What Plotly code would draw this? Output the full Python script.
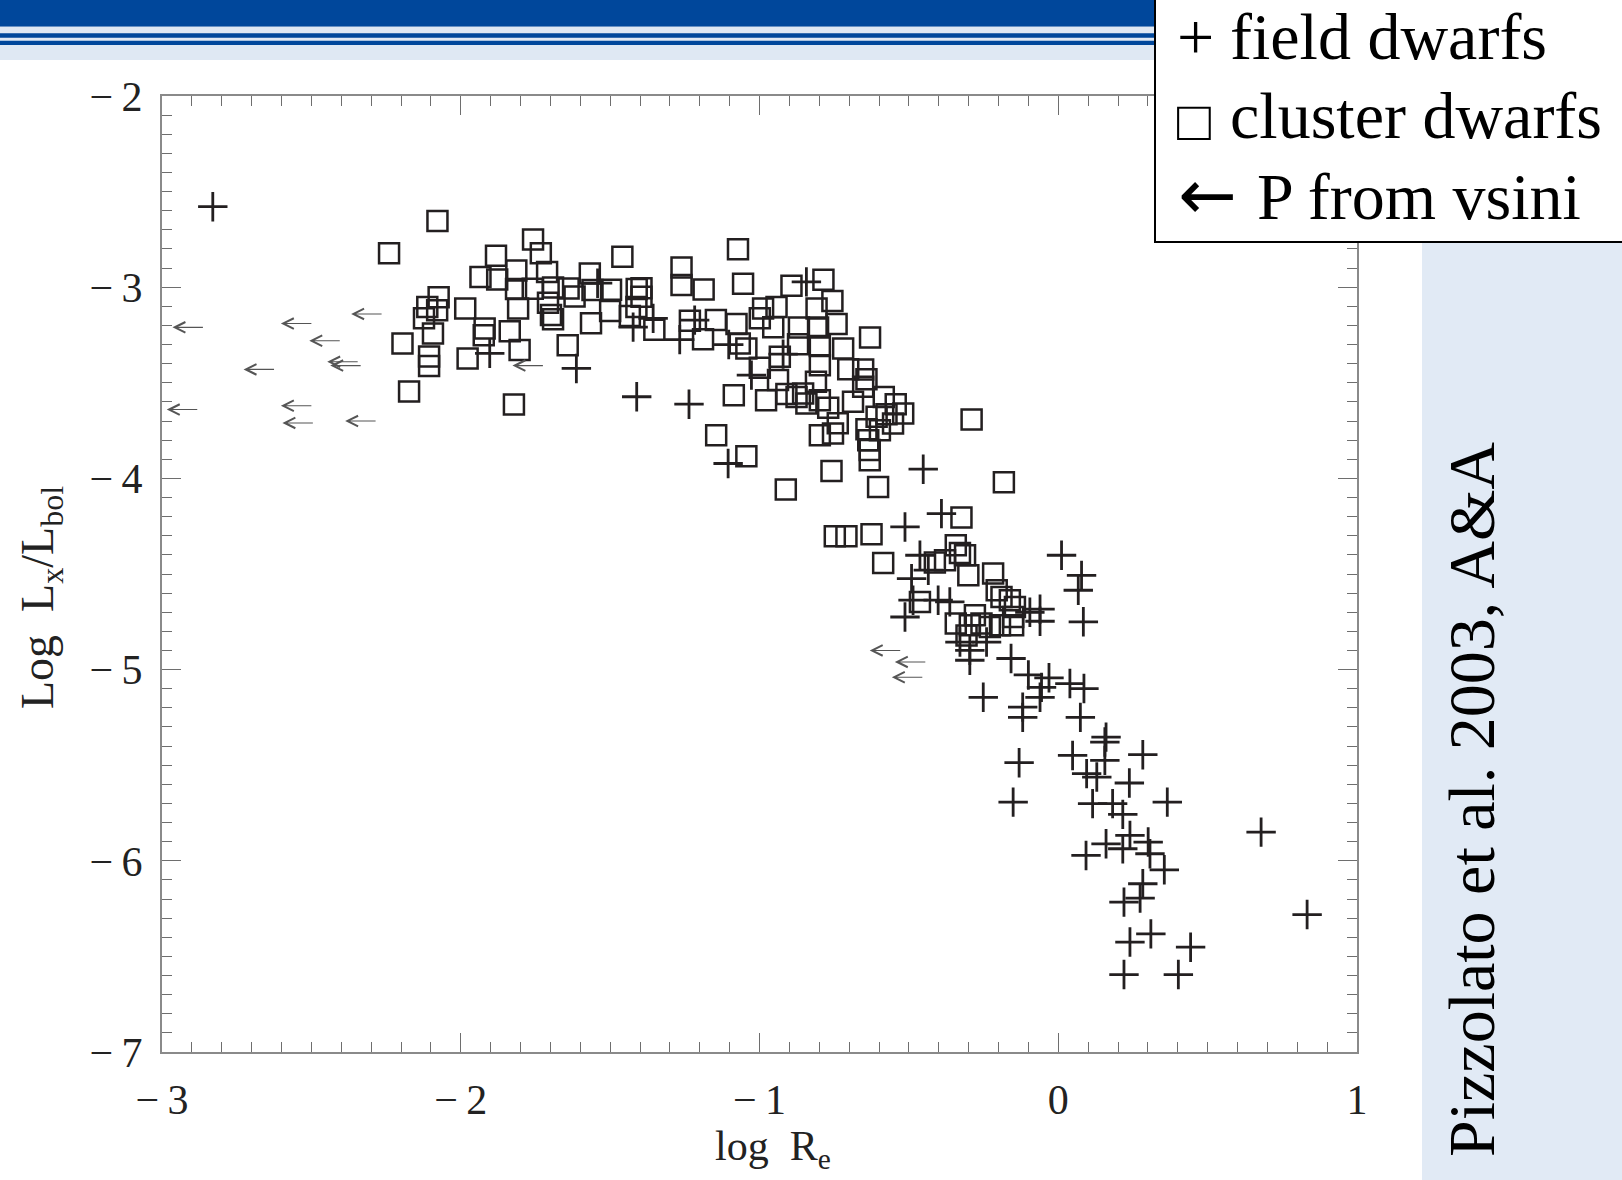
import plotly.graph_objects as go

# ---------------- data (log R_e , log Lx/Lbol) ----------------
cluster_x = [-2.078, -2.240, -1.758, -1.732, -1.459, -1.882, -1.934, -1.878, -1.814, -1.711,
             -1.568, -1.815, -1.759, -1.691, -1.639, -1.619, -1.559, -1.497, -1.411, -1.808,
             -1.708, -1.698, -1.691, -1.500, -1.434, -1.412, -2.074, -2.112, -2.079, -2.123,
             -2.093, -1.985, -1.920, -1.923, -1.836, -1.803, -1.642, -1.564, -2.195, -2.106,
             -2.106, -1.977, -2.173, -1.822, -1.395, -1.395, -1.352,
             -1.072, -1.261, -1.261, -1.187, -1.055, -0.893, -0.786, -0.756, -0.630, -1.233,
             -1.189, -1.146, -1.077, -0.988, -0.999, -0.943, -0.954, -1.066, -1.044, -0.868,
             -0.809, -0.742, -0.804, -0.871, -0.798, -0.720, -0.932, -0.999, -0.798, -0.703,
             -0.653, -0.938, -0.811, -0.642, -1.086, -0.978, -0.910, -0.876, -0.854, -0.843,
             -0.798, -0.770, -0.687, -0.584, -0.544, -0.519, -0.575, -0.553, -0.608, -0.642,
             -0.636, -0.631, -0.631, -0.597, -0.738, -0.754, -0.798, -0.653, -1.145, -1.044,
             -0.759, -0.912, -0.603, -0.182, -0.290,
             -0.324, -0.748, -0.709, -0.625, -0.586, -0.343, -0.329, -0.312, -0.413, -0.379,
             -0.301, -0.218, -0.206, -0.190, -0.162, -0.145, -0.463, -0.343, -0.279, -0.296,
             -0.257, -0.229, -0.195, -0.151, -0.151, -0.307]
cluster_y = [-2.654, -2.823, -2.751, -2.823, -2.841, -2.835, -2.946, -2.960, -2.913, -2.921,
             -2.929, -3.010, -3.008, -3.001, -3.007, -3.049, -3.015, -3.013, -3.010, -3.111,
             -3.081, -3.146, -3.168, -3.124, -3.151, -3.103, -3.052, -3.103, -3.120, -3.162,
             -3.242, -3.111, -3.216, -3.251, -3.230, -3.329, -3.303, -3.189, -3.294, -3.362,
             -3.412, -3.373, -3.545, -3.614, -3.006, -3.050, -3.222,
             -2.802, -2.897, -2.989, -3.012, -2.982, -2.993, -2.961, -3.072, -3.263, -3.176,
             -3.272, -3.172, -3.193, -3.111, -3.163, -3.103, -3.209, -3.294, -3.320, -3.211,
             -3.111, -3.193, -3.211, -3.299, -3.308, -3.320, -3.364, -3.421, -3.408, -3.429,
             -3.431, -3.486, -3.495, -3.481, -3.565, -3.591, -3.559, -3.574, -3.556, -3.608,
             -3.591, -3.630, -3.599, -3.574, -3.612, -3.660, -3.664, -3.713, -3.678, -3.743,
             -3.800, -3.852, -3.905, -3.748, -3.711, -3.765, -3.774, -3.521, -3.774, -3.884,
             -3.961, -4.058, -4.045, -4.020, -3.692,
             -4.205, -4.302, -4.302, -4.292, -4.442, -4.350, -4.390, -4.402, -4.440, -4.428,
             -4.507, -4.498, -4.585, -4.620, -4.637, -4.672, -4.646, -4.759, -4.716, -4.768,
             -4.759, -4.777, -4.768, -4.768, -4.725, -4.821]

field_x = [-2.830, -1.903, -1.613, -1.411, -1.423, -1.356, -1.236, -1.267, -0.843, -1.103,
           -0.921, -1.027, -1.105, -0.452, -0.391, -0.513, 0.011, 0.078, 0.067, 0.084,
           -0.061, -0.061, -0.095, -0.463, -0.435, -0.491, -0.363, -0.402, -0.486, -0.513,
           -0.329, -0.296, -0.240, -0.296, -0.158, -0.251, -0.100, -0.031, -0.061, -0.056,
           0.039, 0.086, -0.119, -0.119, 0.074, 0.160, 0.156, 0.156, 0.048, 0.095,
           0.129, 0.283, -0.131, 0.238, -0.151, 0.115, 0.182, 0.216, 0.365, 0.679,
           0.093, 0.160, 0.216, 0.240, 0.301, 0.307, 0.355, 0.283, 0.274, 0.220,
           0.240, 0.310, 0.443, 0.220, 0.402, 0.833, -1.542, -1.217]
field_y = [-2.579, -3.346, -3.425, -3.573, -3.209, -3.163, -3.612, -3.274, -2.972, -3.300,
           -3.350, -3.460, -3.922, -3.952, -4.184, -4.254, -4.402, -4.507, -4.585, -4.750,
           -4.684, -4.747, -4.700, -4.402, -4.480, -4.524, -4.646, -4.637, -4.637, -4.725,
           -4.856, -4.899, -4.856, -4.951, -4.942, -5.145, -5.028, -5.043, -5.145, -5.093,
           -5.073, -5.099, -5.196, -5.250, -5.250, -5.353, -5.379, -5.475, -5.449, -5.544,
           -5.562, -5.445, -5.487, -5.593, -5.693, -5.701, -5.701, -5.757, -5.693, -5.850,
           -5.972, -5.911, -5.937, -5.867, -5.902, -5.963, -6.047, -6.120, -6.195, -6.216,
           -6.425, -6.382, -6.452, -6.595, -6.595, -6.281, -2.979, -3.172]

# upper limits (P from v sin i): the point, arrow drawn towards smaller log R_e
vsini_x = [-2.858, -2.495, -2.260, -2.400, -2.340, -2.330, -2.620, -2.877, -2.495, -2.490,
           -2.280, -1.720, -0.524, -0.440, -0.450]
vsini_y = [-3.21, -3.19, -3.14, -3.28, -3.39, -3.41, -3.43, -3.64, -3.62, -3.71,
           -3.70, -3.41, -4.90, -4.96, -5.04]

x_tickvals = [-3, -2, -1, 0, 1]
x_ticktext = ["\u2212\u20093", "\u2212\u20092", "\u2212\u20091", "0", "1"]
y_tickvals = [-7, -6, -5, -4, -3, -2]
y_ticktext = ["\u2212\u20097", "\u2212\u20096", "\u2212\u20095", "\u2212\u20094", "\u2212\u20093", "\u2212\u20092"]

legend_symbols = ["+", "\u25a1", "\u2190"]
legend_labels = ["field dwarfs", "cluster dwarfs", "P from vsini"]
credit = "Pizzolato et al. 2003, A&A"
x_title = "log  R<sub>e</sub>"
y_title = "Log  L<sub>x</sub>/L<sub>bol</sub>"

# ---------------- layout geometry ----------------
W, H = 1622, 1180
L, R, T, B = 162, 265, 96, 128
PW, PH = W - L - R, H - T - B


def fx(px):
    return (px - L) / PW


def fy(py):
    return (H - B - py) / PH


INK = "#231f20"
DARK = "#00479b"
LIGHT = "#dfe8f3"
SERIF = "Liberation Serif"

fig = go.Figure()
fig.add_trace(go.Scatter(
    x=cluster_x, y=cluster_y, mode="markers", name="cluster dwarfs",
    marker=dict(symbol="square-open", size=20, color=INK, line=dict(width=2.5, color=INK)),
))
fig.add_trace(go.Scatter(
    x=field_x, y=field_y, mode="markers", name="field dwarfs",
    marker=dict(symbol="cross-thin", size=21, color=INK, line=dict(width=2.8, color=INK)),
))

ARROW_LEN = 0.107
annotations = []
for xv, yv in zip(vsini_x, vsini_y):
    annotations.append(dict(
        x=xv - ARROW_LEN, y=yv, ax=xv, ay=yv, xref="x", yref="y", axref="x", ayref="y",
        text="", showarrow=True, arrowhead=5, arrowsize=1.9, arrowwidth=1.1,
        arrowcolor="#555555", standoff=0,
    ))

# legend text block: symbol + label per line
sym_specs = [  # (x centre px, y centre px, font family, size)
    (1195, 36, SERIF, 66),
    (1194, 121, SERIF, 56),
    (1207, 195, "DejaVu Sans", 70),
]
label_specs = [(1228, 37), (1228, 115), (1255, 196)]
for sym, (sx, sy, fam, fs) in zip(legend_symbols, sym_specs):
    annotations.append(dict(
        x=fx(sx), y=fy(sy), xref="paper", yref="paper", xanchor="center", yanchor="middle",
        text=sym, showarrow=False, font=dict(family=fam, size=fs, color="black"),
    ))
for lab, (lx, ly) in zip(legend_labels, label_specs):
    annotations.append(dict(
        x=fx(lx), y=fy(ly), xref="paper", yref="paper", xanchor="left", yanchor="middle",
        text=lab, showarrow=False, font=dict(family=SERIF, size=66, color="black"),
    ))

annotations.append(dict(
    x=fx(1472), y=fy(800), xref="paper", yref="paper", xanchor="center", yanchor="middle",
    text=credit, textangle=-90, showarrow=False, font=dict(family=SERIF, size=66, color="black"),
))
annotations.append(dict(
    x=fx(773), y=fy(1149), xref="paper", yref="paper", xanchor="center", yanchor="middle",
    text=x_title, showarrow=False, font=dict(family=SERIF, size=42, color="#222"),
))
annotations.append(dict(
    x=fx(41), y=fy(598), xref="paper", yref="paper", xanchor="center", yanchor="middle",
    text=y_title, textangle=-90, showarrow=False, font=dict(family=SERIF, size=46, color="#222"),
))

shapes = [
    dict(type="rect", xref="paper", yref="paper", x0=fx(-10), x1=fx(1640), y0=fy(-10), y1=fy(26.7),
         fillcolor=DARK, line=dict(width=0), layer="above"),
    dict(type="rect", xref="paper", yref="paper", x0=fx(-10), x1=fx(1640), y0=fy(26.7), y1=fy(60),
         fillcolor=LIGHT, line=dict(width=0), layer="above"),
    dict(type="rect", xref="paper", yref="paper", x0=fx(-10), x1=fx(1640), y0=fy(33.3), y1=fy(37.7),
         fillcolor=DARK, line=dict(width=0), layer="above"),
    dict(type="rect", xref="paper", yref="paper", x0=fx(-10), x1=fx(1640), y0=fy(40.7), y1=fy(45),
         fillcolor=DARK, line=dict(width=0), layer="above"),
    dict(type="rect", xref="paper", yref="paper", x0=fx(1422), x1=fx(1650), y0=fy(242), y1=fy(1200),
         fillcolor="#e1eaf5", line=dict(width=0), layer="above"),
    dict(type="rect", xref="paper", yref="paper", x0=fx(1155), x1=fx(1660), y0=fy(-20), y1=fy(242),
         fillcolor="white", line=dict(width=2, color="black"), layer="above"),
]

axis_common = dict(
    showgrid=False, zeroline=False, showline=True, linecolor="#8a8a8a", linewidth=2,
    mirror="allticks", ticks="inside", ticklen=19, tickwidth=1.4, tickcolor="#6e6e6e",
    tickfont=dict(family=SERIF, size=42, color="#222"),
    minor=dict(ticks="inside", dtick=0.1, ticklen=10, tickwidth=1.2, tickcolor="#6e6e6e", showgrid=False),
)

fig.update_layout(
    width=W, height=H, margin=dict(l=L, r=R, t=T, b=B),
    paper_bgcolor="white", plot_bgcolor="white", showlegend=False,
    xaxis=dict(range=[-3, 1], tickvals=x_tickvals, ticktext=x_ticktext, ticklabelstandoff=10,
               **axis_common),
    yaxis=dict(range=[-7, -2], tickvals=y_tickvals, ticktext=y_ticktext, ticklabelstandoff=9,
               **axis_common),
    shapes=shapes, annotations=annotations,
)

fig.write_html("out.html")
